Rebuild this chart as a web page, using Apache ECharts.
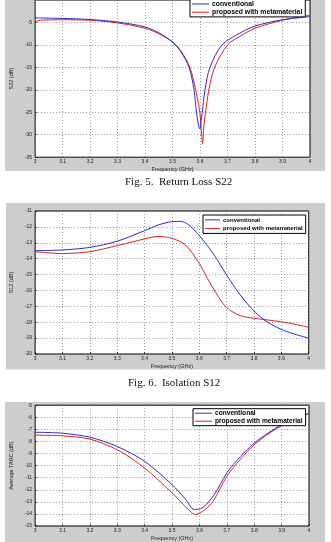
<!DOCTYPE html>
<html><head><meta charset="utf-8">
<script src="https://cdn.jsdelivr.net/npm/echarts@6/dist/echarts.min.js"></script>
<style>html,body{margin:0;padding:0;background:#fff}#c{width:331px;height:542px}</style>
</head><body><div id="c"></div>
<script>
// ---- Fig. 5: Return Loss S22 ----
const s22ConvFreq = [3.0,3.1,3.2,3.3,3.4,3.45,3.5,3.53,3.56,3.578,3.587,3.594,3.599,3.603,3.608,3.618,3.636,3.68,3.75,3.8,3.9,4.0];
const s22ConvVal  = [-4.0,-4.1,-4.35,-4.9,-6.0,-7.3,-9.4,-11.5,-15,-20,-25,-27.8,-28.7,-27.2,-25,-20,-15,-10,-7.2,-5.8,-4.4,-3.7];
const s22MetaFreq = [3.0,3.02,3.1,3.2,3.3,3.4,3.45,3.5,3.53,3.563,3.584,3.599,3.606,3.609,3.614,3.62,3.632,3.653,3.70,3.75,3.8,3.9,4.0];
const s22MetaVal  = [-4.8,-4.5,-4.4,-4.5,-5.1,-6.3,-7.5,-9.3,-11.3,-15,-20,-25,-30,-32,-28,-25,-20,-15,-10,-7.9,-6.3,-4.5,-3.4];
// ---- Fig. 6: Isolation S12 ----
const s12ConvFreq = [3.0,3.1,3.2,3.3,3.4,3.45,3.5,3.53,3.56,3.6,3.65,3.7,3.75,3.8,3.85,3.9,3.95,4.0];
const s12ConvVal  = [-13.5,-13.45,-13.29,-12.9,-12.24,-11.88,-11.67,-11.65,-11.85,-12.55,-13.66,-15.03,-16.29,-17.29,-18.0,-18.45,-18.76,-19.0];
const s12MetaFreq = [3.0,3.1,3.2,3.3,3.4,3.45,3.5,3.55,3.6,3.63,3.67,3.7,3.75,3.8,3.85,3.9,3.95,4.0];
const s12MetaVal  = [-13.56,-13.68,-13.56,-13.18,-12.76,-12.6,-12.72,-13.14,-14.3,-15.24,-16.4,-17.08,-17.59,-17.75,-17.86,-17.97,-18.13,-18.32];
// ---- Fig. 7: Average TARC ----
const tarcConvFreq = [3.0,3.1,3.2,3.3,3.4,3.5,3.55,3.58,3.6,3.65,3.7,3.75,3.8,3.85,3.9,4.0];
const tarcConvVal  = [-7.24,-7.32,-7.65,-8.42,-9.65,-11.58,-12.81,-13.62,-13.6,-12.54,-10.6,-9.24,-8.14,-7.32,-6.63,-5.67];
const tarcMetaFreq = [3.0,3.1,3.2,3.3,3.4,3.5,3.55,3.585,3.62,3.65,3.7,3.75,3.8,3.85,3.9,4.0];
const tarcMetaVal  = [-7.48,-7.54,-7.81,-8.69,-10.2,-12.26,-13.42,-14.05,-13.64,-12.95,-10.89,-9.46,-8.28,-7.4,-6.71,-5.67];

const seriesNames = ['conventional','proposed with metamaterial'];
const captions = ['Fig. 5.  Return Loss S22','Fig. 6.  Isolation S12'];
const yNames = ['S22 (dB)','S12 (dB)','Average TARC (dB)'];
const xName = 'Frequency (GHz)';

const zip = (xs, ys) => xs.map((x, i) => [x, ys[i]]);

const grids = [
  {left: 28.5, top: -3, width: 281.5, height: 160.2},
  {left: 31, top: 211, width: 277.7, height: 143},
  {left: 30, top: 405.2, width: 279, height: 121.4}
];
const yRanges = [[-35, 0, 5], [-20, -11, 1], [-15, -5, 1]];
const sansFont = 'Liberation Sans, Arial, sans-serif';
const blue = '#2b2bd0', red = '#e02020';

const gridLine = {show: true, lineStyle: {type: [1, 2], color: '#6a6a6a', width: 0.7}};

const legendLayouts = [
  {left: 190, top: -0.7, itemWidth: 17, fs: 6.8, lh: 7.3},
  {left: 203, top: 215, itemWidth: 15, fs: 6, lh: 7.7},
  {left: 193, top: 408.7, itemWidth: 17, fs: 6.6, lh: 6.6}
];

const chart = echarts.init(document.getElementById('c'), null, {renderer: 'canvas'});
chart.setOption({
  backgroundColor: '#fff',
  animation: false,
  graphic: [
    {type: 'rect', z: -10, shape: {x: 5, y: -5, width: 320, height: 176}, style: {fill: '#cdcdcd'}},
    {type: 'rect', z: -10, shape: {x: 6, y: 203, width: 319, height: 166.5}, style: {fill: '#cdcdcd'}},
    {type: 'rect', z: -10, shape: {x: 5, y: 402, width: 320, height: 150}, style: {fill: '#cdcdcd'}}
  ],
  title: [
    {text: captions[0], left: 125, top: 177, padding: 0, textStyle: {fontFamily: 'Liberation Serif, serif', fontSize: 11, fontWeight: 'normal', color: '#111'}},
    {text: captions[1], left: 128, top: 378, padding: 0, textStyle: {fontFamily: 'Liberation Serif, serif', fontSize: 11, fontWeight: 'normal', color: '#111'}}
  ],
  legend: legendLayouts.map(p => ({
    data: seriesNames, left: p.left, top: p.top, orient: 'vertical', itemGap: 1,
    itemWidth: p.itemWidth, itemHeight: 1, icon: 'rect',
    padding: [1, 3, 1, 2], backgroundColor: '#fff', borderColor: '#000', borderWidth: 1,
    textStyle: {fontSize: p.fs, fontWeight: 'bold', fontFamily: sansFont, color: '#000', lineHeight: p.lh, padding: [0, 0, 0, -2]}
  })),
  grid: grids.map(g => Object.assign({show: true, backgroundColor: '#fff', borderColor: '#000', borderWidth: 1}, g)),
  xAxis: [0, 1, 2].map(i => ({
    type: 'value', gridIndex: i, min: 3, max: 4, interval: 0.1,
    name: xName, nameLocation: 'middle', nameGap: 9,
    nameTextStyle: {fontSize: 5.5, fontFamily: sansFont, color: '#222'},
    axisLine: {show: false}, axisTick: {show: true, inside: true, length: 2, lineStyle: {color: '#000', width: 0.6}},
    axisLabel: {fontSize: 5, fontFamily: sansFont, color: '#222', margin: 2,
      formatter: v => String(Math.round(v * 10) / 10)},
    splitLine: gridLine
  })),
  yAxis: [0, 1, 2].map(i => ({
    type: 'value', gridIndex: i, min: yRanges[i][0], max: yRanges[i][1], interval: yRanges[i][2],
    name: yNames[i], nameLocation: 'middle', nameGap: 14,
    nameTextStyle: {fontSize: 5.5, fontFamily: sansFont, color: '#222'},
    axisLine: {show: false}, axisTick: {show: true, inside: true, length: 2, lineStyle: {color: '#000', width: 0.6}},
    axisLabel: {fontSize: 5, fontFamily: sansFont, color: '#222', margin: 3, showMaxLabel: i !== 0},
    splitLine: gridLine
  })),
  series: [
    [s22ConvFreq, s22ConvVal, s22MetaFreq, s22MetaVal],
    [s12ConvFreq, s12ConvVal, s12MetaFreq, s12MetaVal],
    [tarcConvFreq, tarcConvVal, tarcMetaFreq, tarcMetaVal]
  ].flatMap((d, i) => [
    {name: seriesNames[0], type: 'line', xAxisIndex: i, yAxisIndex: i, data: zip(d[0], d[1]),
     symbol: 'none', smooth: 0.3, lineStyle: {color: blue, width: 1}, itemStyle: {color: blue}, z: 3},
    {name: seriesNames[1], type: 'line', xAxisIndex: i, yAxisIndex: i, data: zip(d[2], d[3]),
     symbol: 'none', smooth: 0.3, lineStyle: {color: red, width: 1}, itemStyle: {color: red}, z: 2}
  ])
});
</script></body></html>
